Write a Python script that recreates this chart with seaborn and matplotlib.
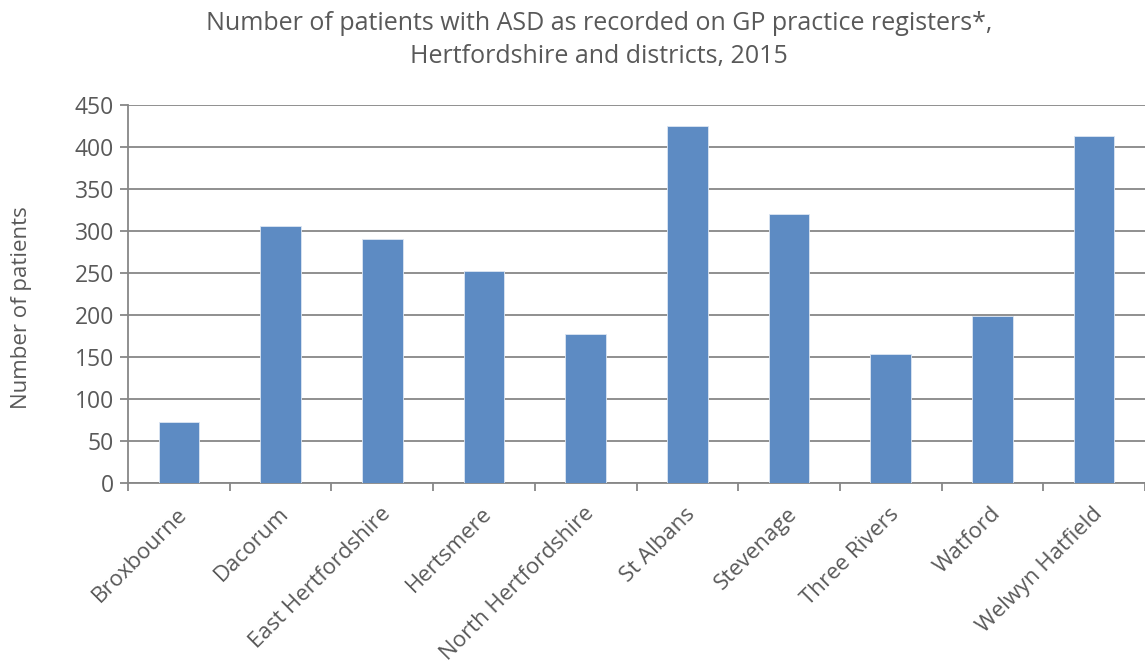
import matplotlib
matplotlib.use("Agg")
import matplotlib.pyplot as plt
import matplotlib.transforms as mtransforms
import seaborn as sns
import numpy as np

# values
districts = ['Broxbourne', 'Dacorum', 'East Hertfordshire', 'Hertsmere',
             'North Hertfordshire', 'St Albans', 'Stevenage', 'Three Rivers',
             'Watford', 'Welwyn Hatfield']
patients = [73, 306, 291, 252, 177, 425, 320, 153, 199, 413]
yticks = [0, 50, 100, 150, 200, 250, 300, 350, 400, 450]

title = 'Number of patients with ASD as recorded on GP practice registers*,\nHertfordshire and districts, 2015'
ylabel = 'Number of patients'

sns.set_style('white')
plt.rcParams['font.family'] = ['Open Sans', 'DejaVu Sans']
txt = '#595959'
grid = '#878787'

fig = plt.figure(figsize=(11.45, 6.64), dpi=100)
ax = fig.add_axes([128/1145, 1-483/664, 1-128/1145, (483-105)/664])

sns.barplot(x=districts, y=patients, color='#5d8bc3', saturation=1, width=0.4,
            edgecolor='#dce6f2', linewidth=0.6, ax=ax, zorder=3)

ax.set_ylim(0, 450)
ax.set_xlim(-0.5, len(districts) - 0.5)
ax.set_yticks(yticks)
ax.yaxis.grid(True, color=grid, linewidth=1.3, zorder=0)
ax.set_axisbelow(True)

for s in ['top', 'right']:
    ax.spines[s].set_visible(False)
for s in ['left', 'bottom']:
    ax.spines[s].set_color(grid)
    ax.spines[s].set_linewidth(1.3)

ax.tick_params(axis='y', colors=grid, length=6, width=1.3, labelsize=16.5,
               labelcolor=txt, pad=4, left=True)
ax.set_xticks(np.arange(-0.5, len(districts), 1), minor=True)
ax.tick_params(axis='x', which='minor', length=6, width=1.3, color=grid, bottom=True)
ax.tick_params(axis='x', which='major', length=0, labelsize=16, labelcolor=txt, pad=20)
# nudge rotated labels a little to the right, like the Excel original
shift = mtransforms.ScaledTranslation(5/100, 0, fig.dpi_scale_trans)
for lab in ax.get_xticklabels():
    lab.set_rotation(45)
    lab.set_ha('right')
    lab.set_va('center')
    lab.set_rotation_mode('anchor')
    lab.set_transform(lab.get_transform() + shift)

ax.set_xlabel('')
ax.set_ylabel('')
fig.text(22/1145, 1-308/664, ylabel, rotation=90, ha='center', va='center',
         fontsize=16, color=txt)
fig.text(599/1145, 1-40/664, title, ha='center', va='center', fontsize=18,
         color=txt, linespacing=1.45)

fig.savefig('out.png', dpi=100)
